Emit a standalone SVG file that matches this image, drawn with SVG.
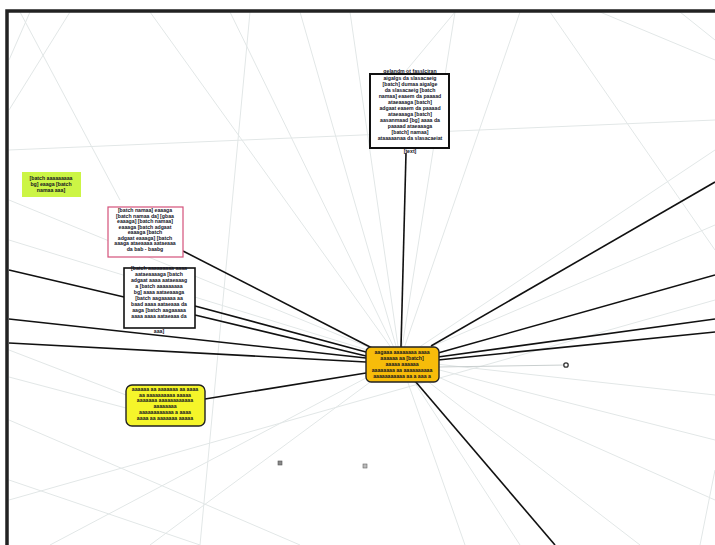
<svg xmlns="http://www.w3.org/2000/svg" width="715" height="545" viewBox="0 0 715 545">
<style>
.bg{stroke:#e2e7e7;stroke-width:1;fill:none}
.cn{stroke:#111;stroke-width:1.6;fill:none}
.t{font-family:"Liberation Sans",Arial,sans-serif;font-size:5.2px;font-weight:bold;fill:#14141f;text-anchor:middle}
</style>
<rect width="715" height="545" fill="#fff"/>
<g id="background-lines">
<path class="bg" d="M400 360L300 12M400 360L350 12M400 360L455 12M400 360L520 12M400 360L715 150M400 360L715 225M400 360L715 395M400 360L715 440M400 360L640 545M400 360L520 545M400 360L465 545M400 360L50 545M400 360L150 545M400 360L9 240M400 360L9 200M400 360L150 12M400 360L230 12M400 360L715 500"/>
<path class="bg" d="M20 12L120 200M70 12L9 110M600 12L715 60M9 420L300 545M9 480L200 545M700 545L715 470M550 12L715 250M30 12L9 60M250 12L200 545M680 12L715 40M9 150L715 120M9 500L715 300"/>
<path class="bg" d="M126 395L9 350M126 408L9 377M405 72L455 12"/>
</g>
<g id="connectors">
<path class="cn" d="M401 347L406 153"/>
<path class="cn" d="M183 251L372 348"/>
<path class="cn" d="M9 270L124 297"/>
<path class="cn" d="M195 306L366 352"/>
<path class="cn" d="M195 315L366 356"/>
<path class="cn" d="M9 319L366 358"/>
<path class="cn" d="M9 343L366 362"/>
<path class="cn" d="M205 399L366 373"/>
<path class="cn" d="M431 346L715 182"/>
<path class="cn" d="M438 353L715 275"/>
<path class="cn" d="M438 357L715 319"/>
<path class="cn" d="M438 360L715 332"/>
<path class="cn" d="M415 381L555 545"/>
<path class="bg" d="M438 367L566 365" style="stroke:#c9cfcf"/>
</g>
<g id="node-top">
<rect x="370" y="74" width="79" height="74" fill="#fff" stroke="#111" stroke-width="2"/>
<text class="t" x="410" y="73">gelandm ot fasslciran</text>
<text class="t" x="410" y="80">aigalgs da slasacaeig</text>
<text class="t" x="410" y="86">[batch] dumaa aigalge</text>
<text class="t" x="410" y="92">da slasacaeig [batch</text>
<text class="t" x="410" y="98">namaa] eaaem da paaaad</text>
<text class="t" x="410" y="104">ataeaaaga [batch]</text>
<text class="t" x="410" y="110">adgaat eaaem da paaaad</text>
<text class="t" x="410" y="116">ataeaaaga [batch]</text>
<text class="t" x="410" y="122">aasanmaad [bg] aaaa da</text>
<text class="t" x="410" y="128">paaaad ataeaaaga</text>
<text class="t" x="410" y="134">[batch] namaa]</text>
<text class="t" x="410" y="140">ataaaaanaa da slasacaeiat</text>
<text class="t" x="410" y="153">[text]</text>
</g>
<g id="node-pink">
<rect x="108" y="207" width="75" height="50" fill="#fff" stroke="#d4517a" stroke-width="1.2"/>
<text class="t" x="145" y="212">[batch namaa] eaaaga</text>
<text class="t" x="145" y="217.5">[batch namaa da] [gbaa</text>
<text class="t" x="145" y="223">eaaaga] [batch namaa]</text>
<text class="t" x="145" y="228.5">eaaaga [batch adgaat</text>
<text class="t" x="145" y="234">eaaaga [batch</text>
<text class="t" x="145" y="239.5">adgaat eaaaga] [batch</text>
<text class="t" x="145" y="245">aaaga ataeaaaa aataeaaa</text>
<text class="t" x="145" y="251">da bab - baabg</text>
</g>
<g id="node-lime">
<rect x="22" y="172" width="59" height="25" fill="#ccf545"/>
<text class="t" x="51" y="180">[batch aaaaaaaaa</text>
<text class="t" x="51" y="186">bg] eaaga [batch</text>
<text class="t" x="51" y="192">namaa aaa]</text>
</g>
<g id="node-black">
<rect x="124" y="268" width="71" height="60" fill="#fff" stroke="#111" stroke-width="1.6"/>
<text class="t" x="159" y="270">[batch aaaaaaaaa aaaa</text>
<text class="t" x="159" y="276">aataeaaaaga [batch</text>
<text class="t" x="159" y="282">adgaat aaaa aataeaaag</text>
<text class="t" x="159" y="288">a [batch aaaaaaaaa</text>
<text class="t" x="159" y="294">bg] aaaa aataeaaaga</text>
<text class="t" x="159" y="300">[batch aagaaaaa aa</text>
<text class="t" x="159" y="306">baad aaaa aataeaaa da</text>
<text class="t" x="159" y="312">aaga [batch aagaaaaa</text>
<text class="t" x="159" y="318">aaaa aaaa aataeaaa da</text>
<text class="t" x="159" y="333">aaa]</text>
</g>
<g id="node-central">
<rect x="366" y="347" width="73" height="35" rx="5" fill="#f7bc0a" stroke="#222" stroke-width="1.4"/>
<text class="t" x="402" y="354">aagaaa aaaaaaaa aaaa</text>
<text class="t" x="402" y="360">aaaaaa aa [batch]</text>
<text class="t" x="402" y="366">aaaaa aaaaaa</text>
<text class="t" x="402" y="372">aaaaaaaa aa aaaaaaaaaa</text>
<text class="t" x="402" y="378">aaaaaaaaaaa aa a aaa a</text>
</g>
<g id="node-yellow">
<rect x="126" y="385" width="79" height="41" rx="6" fill="#f5f52a" stroke="#222" stroke-width="1.4"/>
<text class="t" x="165" y="391">aaaaaa aa aaaaaaa aa aaaa</text>
<text class="t" x="165" y="396.5">aa aaaaaaaaaa aaaaa</text>
<text class="t" x="165" y="402">aaaaaaa aaaaaaaaaaaa</text>
<text class="t" x="165" y="407.5">aaaaaaaa</text>
<text class="t" x="165" y="414">aaaaaaaaaaaa a aaaa</text>
<text class="t" x="165" y="420">aaaa aa aaaaaaa aaaaa</text>
</g>
<g id="markers">
<circle cx="566" cy="365" r="2.2" fill="#fff" stroke="#333" stroke-width="1.3"/>
<rect x="278" y="461" width="4" height="4" fill="#888" stroke="#555" stroke-width="0.6"/>
<rect x="363" y="464" width="4" height="4" fill="#bbb" stroke="#666" stroke-width="0.6"/>
</g>
<g id="frame">
<path d="M7 545V11H715" fill="none" stroke="#222" stroke-width="3.5"/>
</g>
</svg>
